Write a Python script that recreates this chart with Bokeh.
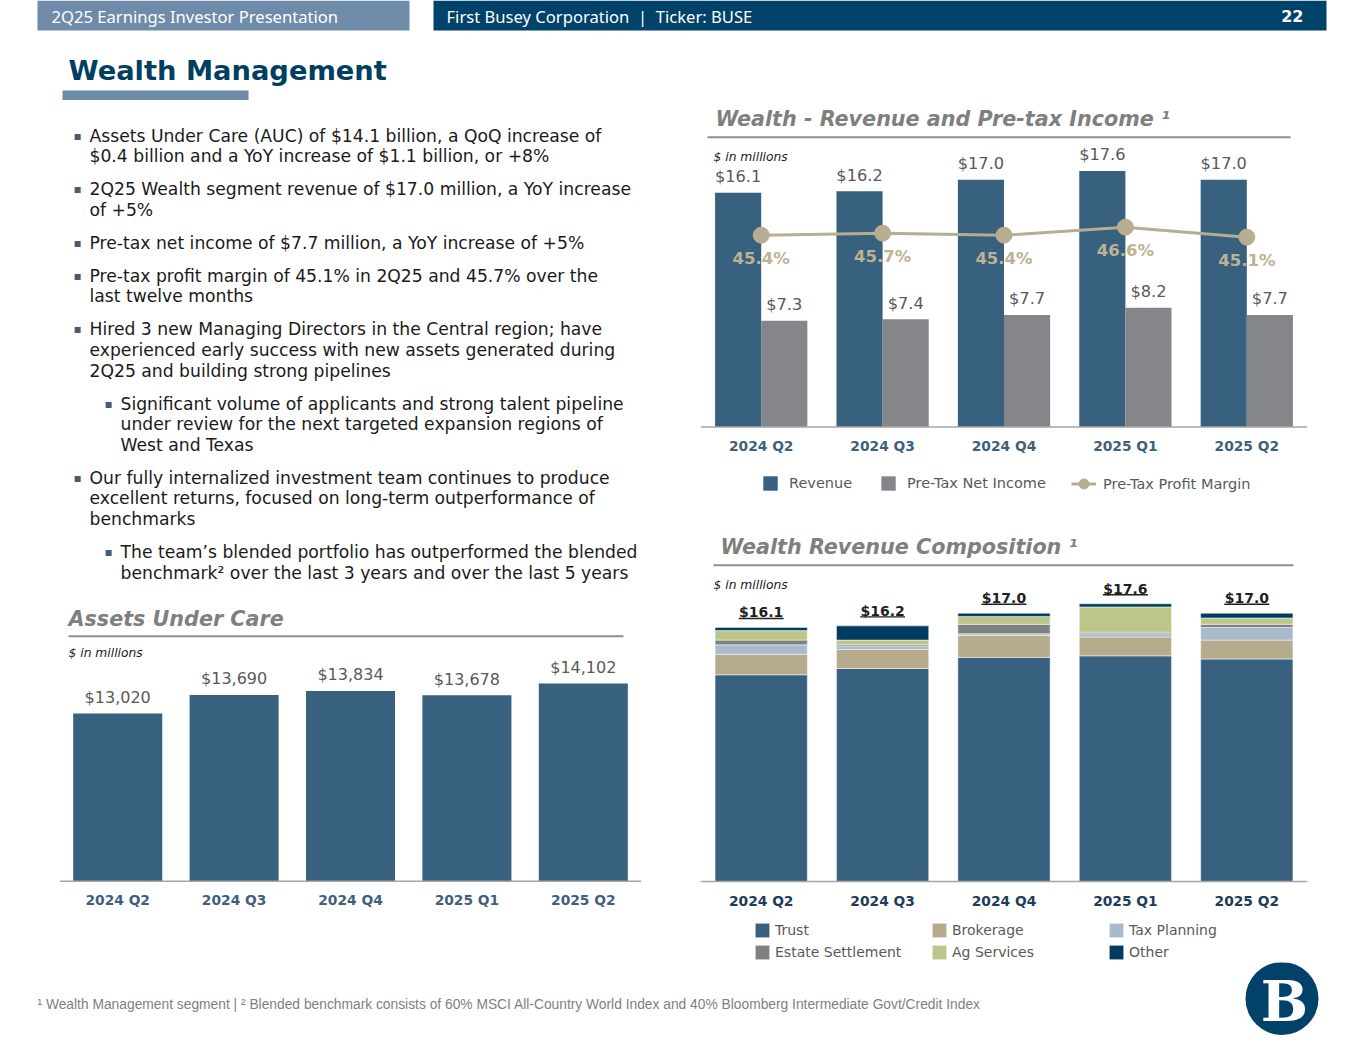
from bokeh.plotting import figure
from bokeh.layouts import column, row
from bokeh.models import (Range1d, FactorRange, Span, Label, BoxAnnotation, Legend,
                          LegendItem, ColumnDataSource)
from bokeh.transform import dodge
from bokeh.core.properties import value
from bokeh.embed import file_html
from bokeh.resources import INLINE

# ---------------- data ----------------
quarters = ["2024 Q2", "2024 Q3", "2024 Q4", "2025 Q1", "2025 Q2"]
auc_millions = [13020, 13690, 13834, 13678, 14102]
revenue = [16.1, 16.2, 17.0, 17.6, 17.0]
pretax_income = [7.3, 7.4, 7.7, 8.2, 7.7]
pretax_margin = [45.4, 45.7, 45.4, 46.6, 45.1]

comp_trust = [13.1, 13.5, 14.2, 14.3, 14.1]
comp_brokerage = [1.3, 1.2, 1.4, 1.2, 1.2]
comp_tax = [0.6, 0.2, 0.1, 0.2, 0.8]
comp_estate = [0.3, 0.1, 0.6, 0.1, 0.2]
comp_ag = [0.6, 0.3, 0.5, 1.6, 0.4]
comp_other = [0.2, 0.9, 0.2, 0.2, 0.3]
comp_names = ["Trust", "Brokerage", "Tax Planning", "Estate Settlement", "Ag Services", "Other"]
rev_legend = ["Revenue", "Pre-Tax Net Income", "Pre-Tax Profit Margin"]

bullets = [
    (1, ["Assets Under Care (AUC) of $14.1 billion, a QoQ increase of",
         "$0.4 billion and a YoY increase of $1.1 billion, or +8%"]),
    (1, ["2Q25 Wealth segment revenue of $17.0 million, a YoY increase",
         "of +5%"]),
    (1, ["Pre-tax net income of $7.7 million, a YoY increase of +5%"]),
    (1, ["Pre-tax profit margin of 45.1% in 2Q25 and 45.7% over the",
         "last twelve months"]),
    (1, ["Hired 3 new Managing Directors in the Central region; have",
         "experienced early success with new assets generated during",
         "2Q25 and building strong pipelines"]),
    (2, ["Significant volume of applicants and strong talent pipeline",
         "under review for the next targeted expansion regions of",
         "West and Texas"]),
    (1, ["Our fully internalized investment team continues to produce",
         "excellent returns, focused on long-term outperformance of",
         "benchmarks"]),
    (2, ["The team\u2019s blended portfolio has outperformed the blended",
         "benchmark\u00b2 over the last 3 years and over the last 5 years"]),
]
footnote = ("\u00b9 Wealth Management segment | \u00b2 Blended benchmark consists of 60% MSCI "
            "All-Country World Index and 40% Bloomberg Intermediate Govt/Credit Index")

# ---------------- style ----------------
FONT = "DejaVu Sans"
BLUE = "#37617f"
GRAYBAR = "#858689"
TAN = "#b7ad90"
TANTXT = "#bdb293"
VALTXT = "#595959"
TICK = "#3f5f7d"
TICKDARK = "#1d3d5c"
NAVY = "#00426a"
LIGHT = "#6e8ba9"
TITLEC = "#003e62"
SECT = "#7f7f7f"
RULE = "#8f8f8f"
AXIS = "#a6a6a6"
comp_colors = [BLUE, "#b7ab8d", "#a8bacb", "#7f8082", "#bcc68a", "#003c60"]


def base_fig(w, h, xr, yr, **kw):
    p = figure(width=int(w), height=int(h), x_range=xr, y_range=yr,
               output_backend="svg", toolbar_location=None, tools="",
               x_axis_location=None, y_axis_location=None, min_border=0, **kw)
    p.outline_line_color = None
    p.grid.visible = False
    p.background_fill_color = "white"
    p.border_fill_color = "white"
    return p


def pix_fig(x0, x1, y0, y1):
    return base_fig(x1 - x0, y1 - y0, Range1d(x0, x1), Range1d(y1, y0))


def chart_fig(fx0, fx1, fy0, fy1, cx0, cx1, base, k, v0):
    yr = Range1d(v0 - (fy1 - base) / k, v0 + (base - fy0) / k)
    p = base_fig(fx1 - fx0, fy1 - fy0, FactorRange(*quarters), yr,
                 min_border_left=int(cx0 - fx0), min_border_right=int(fx1 - cx1))

    def X(rx):
        return (rx - cx0) / (cx1 - cx0) * len(quarters)

    def Y(ry):
        return v0 + (base - ry) / k
    return p, X, Y


def section_title(p, X, Y, text, x, y, rule_x0, rule_x1, rule_y, note_x, note_y):
    p.add_layout(Label(x=X(x), y=Y(y), text=text, text_font=FONT, text_font_size="20.7px",
                       text_font_style="bold italic", text_color=SECT,
                       text_baseline="middle", text_align="left"))
    p.add_layout(BoxAnnotation(left=X(rule_x0), right=X(rule_x1), top=Y(rule_y - 1),
                               bottom=Y(rule_y + 1), fill_color=RULE, fill_alpha=1,
                               line_color=None))
    p.add_layout(Label(x=X(note_x), y=Y(note_y), text="$ in millions", text_font=FONT,
                       text_font_size="12.3px", text_font_style="italic", text_color="#1a1a1a",
                       text_baseline="middle", text_align="left"))


def txt(p, **kw):
    d = dict(text_font=value(FONT), text_baseline="middle", text_align="center")
    d.update(kw)
    return p.text(**d)


# ---------------- header ----------------
ph = pix_fig(0, 1349, 0, 100)
ph.quad(left=[37, 433, 62], right=[409, 1326, 248], top=[0, 0, 90], bottom=[30, 30, 100],
        fill_color=[LIGHT, NAVY, LIGHT], line_color=None)
ph.text(x=[51, 446], y=[15.5, 15.5],
        text=["2Q25 Earnings Investor Presentation",
              "First Busey Corporation\u00a0\u00a0|\u00a0\u00a0Ticker: BUSE"],
        text_font=value("Noto Sans"), text_font_size="16.6px", text_color="white",
        text_baseline="middle")
ph.text(x=[1303], y=[15.5], text=["22"], text_font=value(FONT), text_font_size="16px",
        text_font_style="bold", text_color="white", text_baseline="middle", text_align="right")
ph.text(x=[68], y=[70], text=["Wealth Management"], text_font=value(FONT),
        text_font_size="27.3px", text_font_style="bold", text_color=TITLEC,
        text_baseline="middle")

# ---------------- bullets (frame aligned with the AUC chart below) ----------------
LCX0, LCX1 = 59, 641
pb = base_fig(655, 500, Range1d(LCX0, LCX1), Range1d(600, 100),
              min_border_left=LCX0, min_border_right=655 - LCX1)
bx, by, tx, ty, tt = [], [], [], [], []
yy = 135.0
for level, lines in bullets:
    bx.append(77 if level == 1 else 108)
    by.append(yy)
    for line in lines:
        tx.append(89 if level == 1 else 120)
        ty.append(yy)
        tt.append(line)
        yy += 20.6
    yy += 12.4
pb.text(x=bx, y=by, text=["\u25aa"] * len(bx), text_font=value(FONT), text_font_size="12px",
        text_color="#4a5a70", text_baseline="middle", text_align="center")
pb.text(x=tx, y=ty, text=tt, text_font=value(FONT), text_font_size="17.2px",
        text_color="#1a1a1a", text_baseline="middle", text_align="left")

# ---------------- Assets Under Care ----------------
AUC_BASE = 6960
pa, XA, YA = chart_fig(0, 655, 600, 962, LCX0, LCX1, 880.7, 0.02767, AUC_BASE)
asrc = ColumnDataSource(dict(q=quarters, auc=auc_millions,
                             lbl=["${:,}".format(v) for v in auc_millions]))
pa.vbar(x="q", top="auc", bottom=AUC_BASE, width=0.765, source=asrc,
        fill_color=BLUE, line_color=None)
txt(pa, x="q", y="auc", text="lbl", y_offset=-16, text_font_size="16px",
    text_color=VALTXT, source=asrc)
txt(pa, x="q", y=YA(899.5), text="q", text_font_size="13.8px", text_font_style="bold",
    text_color=TICK, source=asrc)
pa.add_layout(Span(location=AUC_BASE, dimension="width", line_color=AXIS, line_width=1.5))
section_title(pa, XA, YA, "Assets Under Care", 68, 618.5, 68, 623, 635.7, 68, 652.7)

# ---------------- Revenue & Pre-tax income ----------------
RCX0, RCX1 = 700, 1307
pr, XR, YR = chart_fig(655, 1349, 100, 510, RCX0, RCX1, 426.5, 14.55, 0.0)
M_BASE_REF, M_K, M_V0 = 234.7, 6.67, 45.4
pr.extra_y_ranges = {"m": Range1d(M_V0 - (510 - M_BASE_REF) / M_K,
                                  M_V0 + (M_BASE_REF - 100) / M_K)}
rsrc = ColumnDataSource(dict(q=quarters, rev=revenue, ni=pretax_income, m=pretax_margin,
                             rev_lbl=["${:.1f}".format(v) for v in revenue],
                             ni_lbl=["${:.1f}".format(v) for v in pretax_income],
                             m_lbl=["{:.1f}%".format(v) for v in pretax_margin]))
r_rev = pr.vbar(x=dodge("q", -0.19, range=pr.x_range), top="rev", width=0.38, source=rsrc,
                fill_color=BLUE, line_color=None)
r_ni = pr.vbar(x=dodge("q", 0.19, range=pr.x_range), top="ni", width=0.38, source=rsrc,
               fill_color=GRAYBAR, line_color=None)
txt(pr, x=dodge("q", -0.19, range=pr.x_range), y="rev", text="rev_lbl", y_offset=-16,
    text_font_size="16.2px", text_color=VALTXT, source=rsrc)
txt(pr, x=dodge("q", 0.19, range=pr.x_range), y="ni", text="ni_lbl", y_offset=-16,
    text_font_size="16.2px", text_color=VALTXT, source=rsrc)
r_ml = pr.line(x="q", y="m", y_range_name="m", source=rsrc, line_color=TAN, line_width=3)
r_mp = pr.scatter(x="q", y="m", y_range_name="m", source=rsrc, size=16, marker="circle",
                  fill_color=TAN, line_color=TAN)
txt(pr, x="q", y="m", y_range_name="m", text="m_lbl", y_offset=23, text_font_size="16.5px",
    text_font_style="bold", text_color=TANTXT, source=rsrc)
txt(pr, x="q", y=YR(445), text="q", text_font_size="13.8px", text_font_style="bold",
    text_color=TICK, source=rsrc)
pr.add_layout(Span(location=0, dimension="width", line_color=AXIS, line_width=1.5))
section_title(pr, XR, YR, "Wealth - Revenue and Pre-tax Income \u00b9", 715, 118,
              707, 1290, 136.7, 713, 156.7)

legA = Legend(items=[LegendItem(label=rev_legend[0], renderers=[r_rev]),
                     LegendItem(label=rev_legend[1], renderers=[r_ni])],
              orientation="horizontal", location=(61, 18), glyph_width=18, glyph_height=18,
              label_standoff=10, label_width=85, label_height=18, spacing=5, padding=0,
              margin=0, border_line_color=None, background_fill_alpha=0,
              label_text_font=FONT, label_text_font_size="14.5px", label_text_color=VALTXT)
legB = Legend(items=[LegendItem(label=rev_legend[2], renderers=[r_ml, r_mp])],
              orientation="horizontal", location=(371, 14), glyph_width=25, glyph_height=25,
              label_standoff=7, label_height=18, padding=0, margin=0,
              border_line_color=None, background_fill_alpha=0,
              label_text_font=FONT, label_text_font_size="14.5px", label_text_color=VALTXT)
pr.add_layout(legA)
pr.add_layout(legB)

# ---------------- Revenue composition ----------------
pc, XC, YC = chart_fig(655, 1349, 510, 962, RCX0, RCX1, 881, 15.78, 0.0)
stack_keys = ["trust", "brokerage", "tax", "estate", "ag", "other"]
totals = [round(a + b + c + d + e + f, 1) for a, b, c, d, e, f in
          zip(comp_trust, comp_brokerage, comp_tax, comp_estate, comp_ag, comp_other)]
csrc = ColumnDataSource(dict(q=quarters, trust=comp_trust, brokerage=comp_brokerage,
                             tax=comp_tax, estate=comp_estate, ag=comp_ag, other=comp_other,
                             total=totals, lbl=["${:.1f}".format(t) for t in totals],
                             ul=[t + 9 / 15.78 for t in totals]))
comp_r = pc.vbar_stack(stack_keys, x="q", width=0.76, fill_color=comp_colors,
                       line_color="white", line_width=0.7, line_alpha=0.7, source=csrc)
txt(pc, x="q", y="total", text="lbl", y_offset=-15, text_font_size="14px",
    text_font_style="bold", text_color="#1f1f1f", source=csrc)
pc.rect(x="q", y="ul", width=0.37, height=1.4, height_units="screen", source=csrc,
        fill_color="#1f1f1f", line_color=None)
txt(pc, x="q", y=YC(900), text="q", text_font_size="13.8px", text_font_style="bold",
    text_color=TICKDARK, source=csrc)
pc.add_layout(Span(location=0, dimension="width", line_color=AXIS, line_width=1.5))
section_title(pc, XC, YC, "Wealth Revenue Composition \u00b9", 720, 546, 713, 1293,
              564.7, 713, 584)

for row_i, yloc in ((0, 23), (1, 1)):
    items = [LegendItem(label=comp_names[j], renderers=[comp_r[j]])
             for j in range(row_i * 3, row_i * 3 + 3)]
    pc.add_layout(Legend(items=items, orientation="horizontal", location=(53, yloc),
                         glyph_width=18, glyph_height=18, label_standoff=4, label_width=150,
                         label_height=18, spacing=5, padding=0, margin=0,
                         border_line_color=None, background_fill_alpha=0,
                         label_text_font=FONT, label_text_font_size="14px",
                         label_text_color=VALTXT))

# ---------------- footer ----------------
pf = pix_fig(0, 1349, 962, 1039)
pf.text(x=[37], y=[1004], text=[footnote], text_font=value("Liberation Sans"),
        text_font_size="13.8px", text_color="#7f7f7f", text_baseline="middle")
pf.circle(x=[1281.5], y=[998], radius=36.5, fill_color=NAVY, line_color=None)
pf.text(x=[1284], y=[1000], text=["B"], text_font=value("DejaVu Serif"),
        text_font_size="56px", text_font_style="bold", text_color="white",
        text_baseline="middle", text_align="center")

layout = column(ph, row(column(pb, pa, spacing=0), column(pr, pc, spacing=0), spacing=0),
                pf, spacing=0)

open("out.html", "w").write(file_html(layout, INLINE))
